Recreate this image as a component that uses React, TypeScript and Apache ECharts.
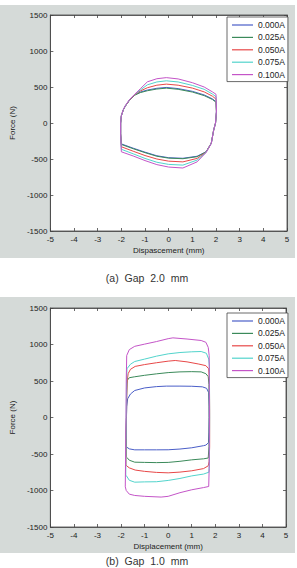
import React, { useEffect, useRef } from "react";
import * as echarts from "echarts";

type Pt = [number, number];

const seriesNames = ["0.000A", "0.025A", "0.050A", "0.075A", "0.100A"];
const seriesColors = ["#4a5ec8", "#3b8a5a", "#e84848", "#52d4cc", "#c455c8"];

const xMin = -5;
const xMax = 5;
const xInterval = 1;
const yMin = -1500;
const yMax = 1500;
const yInterval = 500;

const captionA = "(a)  Gap  2.0  mm";
const captionB = "(b)  Gap  1.0  mm";
const xNameA = "Dispascement (mm)";
const xNameB = "Displacement (mm)";
const yName = "Force (N)";

// ---- (a) Gap 2.0 mm ----
const gapA_000: Pt[] = [
  [-2.0, -290], [-2.03, -150], [-2.03, 0], [-2.0, 100], [-1.92, 180], [-1.84, 230], [-1.65, 320],
  [-1.44, 390], [-1.2, 430], [-0.9, 458], [-0.5, 482], [-0.1, 494], [0.4, 478], [1.0, 440],
  [1.5, 390], [1.85, 335], [2.0, 296], [2.02, 150], [1.98, 0], [1.9, -100], [1.8, -280],
  [1.58, -400], [1.2, -462], [0.6, -490], [0.0, -482], [-0.5, -455], [-1.0, -405], [-1.5, -350],
  [-2.0, -290],
];
const gapA_025: Pt[] = [
  [-2.0, -298], [-2.03, -150], [-2.03, 0], [-2.0, 100], [-1.92, 180], [-1.84, 230], [-1.65, 318],
  [-1.44, 385], [-1.2, 422], [-0.9, 448], [-0.5, 472], [-0.1, 484], [0.4, 468], [1.0, 430],
  [1.5, 380], [1.85, 326], [2.0, 288], [2.02, 150], [1.98, 0], [1.9, -100], [1.8, -280],
  [1.58, -402], [1.2, -468], [0.6, -496], [0.0, -488], [-0.5, -462], [-1.0, -412], [-1.5, -357],
  [-2.0, -298],
];
const gapA_050: Pt[] = [
  [-2.0, -330], [-2.03, -150], [-2.03, 0], [-2.0, 100], [-1.92, 180], [-1.84, 232], [-1.65, 322],
  [-1.44, 392], [-1.2, 445], [-0.9, 490], [-0.5, 525], [-0.1, 540], [0.4, 525], [1.0, 485],
  [1.5, 432], [1.85, 372], [2.0, 332], [2.02, 160], [1.98, 0], [1.9, -100], [1.8, -282],
  [1.58, -405], [1.2, -492], [0.6, -540], [0.0, -530], [-0.5, -500], [-1.0, -452], [-1.5, -392],
  [-2.0, -330],
];
const gapA_075: Pt[] = [
  [-2.0, -365], [-2.03, -150], [-2.03, 0], [-2.0, 100], [-1.92, 182], [-1.84, 235], [-1.65, 325],
  [-1.44, 395], [-1.2, 458], [-0.9, 530], [-0.5, 570], [-0.1, 586], [0.4, 570], [1.0, 522],
  [1.5, 468], [1.85, 402], [2.0, 365], [2.02, 170], [1.98, 0], [1.9, -100], [1.8, -284],
  [1.58, -408], [1.2, -515], [0.6, -585], [0.0, -575], [-0.5, -545], [-1.0, -492], [-1.5, -428],
  [-2.0, -365],
];
const gapA_100: Pt[] = [
  [-2.0, -400], [-2.03, -150], [-2.03, 0], [-2.0, 100], [-1.92, 184], [-1.84, 238], [-1.65, 328],
  [-1.44, 398], [-1.2, 475], [-0.9, 572], [-0.5, 615], [-0.1, 630], [0.4, 612], [1.0, 560],
  [1.5, 500], [1.85, 432], [2.0, 399], [2.02, 180], [1.98, 0], [1.9, -100], [1.8, -286],
  [1.58, -410], [1.2, -540], [0.6, -625], [0.0, -612], [-0.5, -578], [-1.0, -522], [-1.5, -458],
  [-2.0, -400],
];

// ---- (b) Gap 1.0 mm ----
const gapB_000: Pt[] = [
  [-1.78, -400], [-1.78, -200], [-1.77, 0], [-1.76, 150], [-1.72, 256], [-1.6, 322], [-1.42, 370],
  [-1.0, 405], [-0.5, 423], [-0.08, 430], [0.5, 430], [1.0, 428], [1.45, 420], [1.63, 400],
  [1.72, 340], [1.74, 150], [1.74, 0], [1.73, -200], [1.71, -345], [1.6, -378], [1.5, -386],
  [1.0, -415], [0.5, -432], [0.0, -442], [-0.5, -443], [-1.0, -443], [-1.42, -443], [-1.65, -430],
  [-1.76, -406], [-1.78, -400],
];
const gapB_025: Pt[] = [
  [-1.78, -540], [-1.78, -200], [-1.77, 0], [-1.76, 300], [-1.74, 507], [-1.65, 545], [-1.42, 558],
  [-1.0, 578], [-0.5, 598], [0.0, 615], [0.5, 625], [1.0, 628], [1.4, 625], [1.6, 600],
  [1.7, 560], [1.73, 450], [1.74, 0], [1.73, -400], [1.7, -555], [1.5, -566], [1.0, -580],
  [0.5, -600], [0.0, -615], [-0.5, -618], [-1.0, -615], [-1.42, -612], [-1.65, -585], [-1.76, -545],
  [-1.78, -540],
];
const gapB_050: Pt[] = [
  [-1.79, -650], [-1.79, -200], [-1.77, 0], [-1.76, 300], [-1.75, 461], [-1.7, 600], [-1.6, 660],
  [-1.4, 700], [-1.0, 725], [-0.5, 750], [0.0, 772], [0.3, 781], [0.8, 762], [1.3, 732],
  [1.6, 710], [1.72, 667], [1.75, 500], [1.76, 100], [1.76, -400], [1.74, -600], [1.7, -662],
  [1.5, -700], [1.0, -730], [0.5, -748], [0.0, -758], [-0.5, -752], [-1.0, -738], [-1.4, -720],
  [-1.65, -690], [-1.77, -660], [-1.79, -650],
];
const gapB_075: Pt[] = [
  [-1.8, -790], [-1.79, -300], [-1.78, 0], [-1.77, 400], [-1.75, 667], [-1.6, 730], [-1.42, 767],
  [-1.0, 800], [-0.5, 840], [0.0, 872], [0.5, 890], [1.0, 900], [1.4, 904], [1.62, 880],
  [1.72, 800], [1.75, 700], [1.76, 0], [1.75, -600], [1.73, -749], [1.5, -775], [1.0, -800],
  [0.5, -835], [0.0, -862], [-0.5, -880], [-1.0, -882], [-1.42, -886], [-1.65, -860], [-1.77, -800],
  [-1.8, -790],
];
const gapB_100: Pt[] = [
  [-1.82, -950], [-1.8, -300], [-1.79, 0], [-1.78, 500], [-1.76, 849], [-1.65, 930], [-1.42, 975],
  [-1.0, 1005], [-0.5, 1040], [0.0, 1080], [0.2, 1091], [0.8, 1075], [1.4, 1055], [1.6, 1030],
  [1.7, 960], [1.74, 849], [1.75, 0], [1.74, -700], [1.72, -945], [1.5, -960], [1.0, -990],
  [0.5, -1030], [0.0, -1080], [-0.3, -1090], [-1.0, -1080], [-1.42, -1068], [-1.65, -1050],
  [-1.78, -1000], [-1.82, -950],
];

const gapAData: Pt[][] = [gapA_000, gapA_025, gapA_050, gapA_075, gapA_100];
const gapBData: Pt[][] = [gapB_000, gapB_025, gapB_050, gapB_075, gapB_100];

const FONT = "Liberation Sans";
const TEXT = "#222";
const AXIS = "#444";

const plainNum = (v: number) => String(v);

function xAxes(gridIndex: number, name: string) {
  const common = {
    gridIndex,
    type: "value" as const,
    min: xMin,
    max: xMax,
    interval: xInterval,
    splitLine: { show: false },
    axisLine: { show: true, onZero: false, lineStyle: { color: AXIS, width: 0.8 } },
    axisTick: { show: true, inside: true, length: 3, lineStyle: { color: AXIS, width: 0.8 } },
  };
  return [
    {
      ...common,
      position: "bottom" as const,
      name,
      nameLocation: "middle" as const,
      nameGap: 15,
      nameTextStyle: { fontFamily: FONT, fontSize: 8, color: TEXT },
      axisLabel: { fontFamily: FONT, fontSize: 8, color: TEXT, margin: 4, formatter: plainNum },
    },
    { ...common, position: "top" as const, axisLabel: { show: false } },
  ];
}

function yAxes(gridIndex: number) {
  const common = {
    gridIndex,
    type: "value" as const,
    min: yMin,
    max: yMax,
    interval: yInterval,
    splitLine: { show: false },
    axisLine: { show: true, onZero: false, lineStyle: { color: AXIS, width: 0.8 } },
    axisTick: { show: true, inside: true, length: 3, lineStyle: { color: AXIS, width: 0.8 } },
  };
  return [
    {
      ...common,
      position: "left" as const,
      name: yName,
      nameLocation: "middle" as const,
      nameGap: 29,
      nameRotate: 90,
      nameTextStyle: { fontFamily: FONT, fontSize: 8, color: TEXT },
      axisLabel: { fontFamily: FONT, fontSize: 8, color: TEXT, margin: 3, formatter: plainNum },
    },
    { ...common, position: "right" as const, axisLabel: { show: false } },
  ];
}

function legendAt(top: number) {
  return {
    orient: "vertical" as const,
    left: 227,
    top,
    data: seriesNames,
    icon: "rect",
    itemWidth: 21,
    itemHeight: 1.2,
    itemGap: 2.4,
    itemTextGap: 4,
    padding: [3, 3, 2, 5],
    backgroundColor: "#fff",
    borderColor: AXIS,
    borderWidth: 0.8,
    borderRadius: 0,
    selectedMode: false,
    textStyle: { fontFamily: FONT, fontSize: 8.5, color: TEXT, lineHeight: 10 },
  };
}

export default function App() {
  const ref = useRef<HTMLDivElement>(null);
  useEffect(() => {
    if (!ref.current) return;
    const chart = echarts.init(ref.current, undefined, { renderer: "svg" });
    const series: any[] = [];
    gapAData.forEach((d, i) =>
      series.push({
        name: seriesNames[i],
        type: "line",
        xAxisIndex: 0,
        yAxisIndex: 0,
        data: d,
        showSymbol: false,
        symbol: "none",
        color: seriesColors[i],
        lineStyle: { width: 1, color: seriesColors[i] },
      })
    );
    gapBData.forEach((d, i) =>
      series.push({
        name: seriesNames[i],
        type: "line",
        xAxisIndex: 2,
        yAxisIndex: 2,
        data: d,
        showSymbol: false,
        symbol: "none",
        color: seriesColors[i],
        lineStyle: { width: 1, color: seriesColors[i] },
      })
    );
    chart.setOption({
      animation: false,
      backgroundColor: "#fff",
      grid: [
        { left: 38, top: 15, width: 249, height: 216, show: true, backgroundColor: "#fff", borderColor: AXIS, borderWidth: 0.8 },
        { left: 38, top: 308, width: 248, height: 219, show: true, backgroundColor: "#fff", borderColor: AXIS, borderWidth: 0.8 },
      ],
      xAxis: [...xAxes(0, xNameA), ...xAxes(1, xNameB)],
      yAxis: [...yAxes(0), ...yAxes(1)],
      legend: [legendAt(17), legendAt(313)],
      graphic: [
        { type: "rect", z: -1, silent: true, shape: { x: 0, y: 5, width: 295, height: 253 }, style: { fill: "#d5dad8" } },
        { type: "rect", z: -1, silent: true, shape: { x: 0, y: 297, width: 295, height: 256 }, style: { fill: "#d5dad8" } },
        {
          type: "text", x: 147, y: 278,
          style: { text: captionA, fontFamily: FONT, fontSize: 10.5, fill: "#333", align: "center", verticalAlign: "middle" },
        },
        {
          type: "text", x: 147, y: 561,
          style: { text: captionB, fontFamily: FONT, fontSize: 10.5, fill: "#333", align: "center", verticalAlign: "middle" },
        },
      ],
      series,
    });
    return () => chart.dispose();
  }, []);
  return (
    <div
      ref={ref}
      style={{ position: "absolute", left: 0, top: 0, width: 297, height: 568 }}
    />
  );
}
